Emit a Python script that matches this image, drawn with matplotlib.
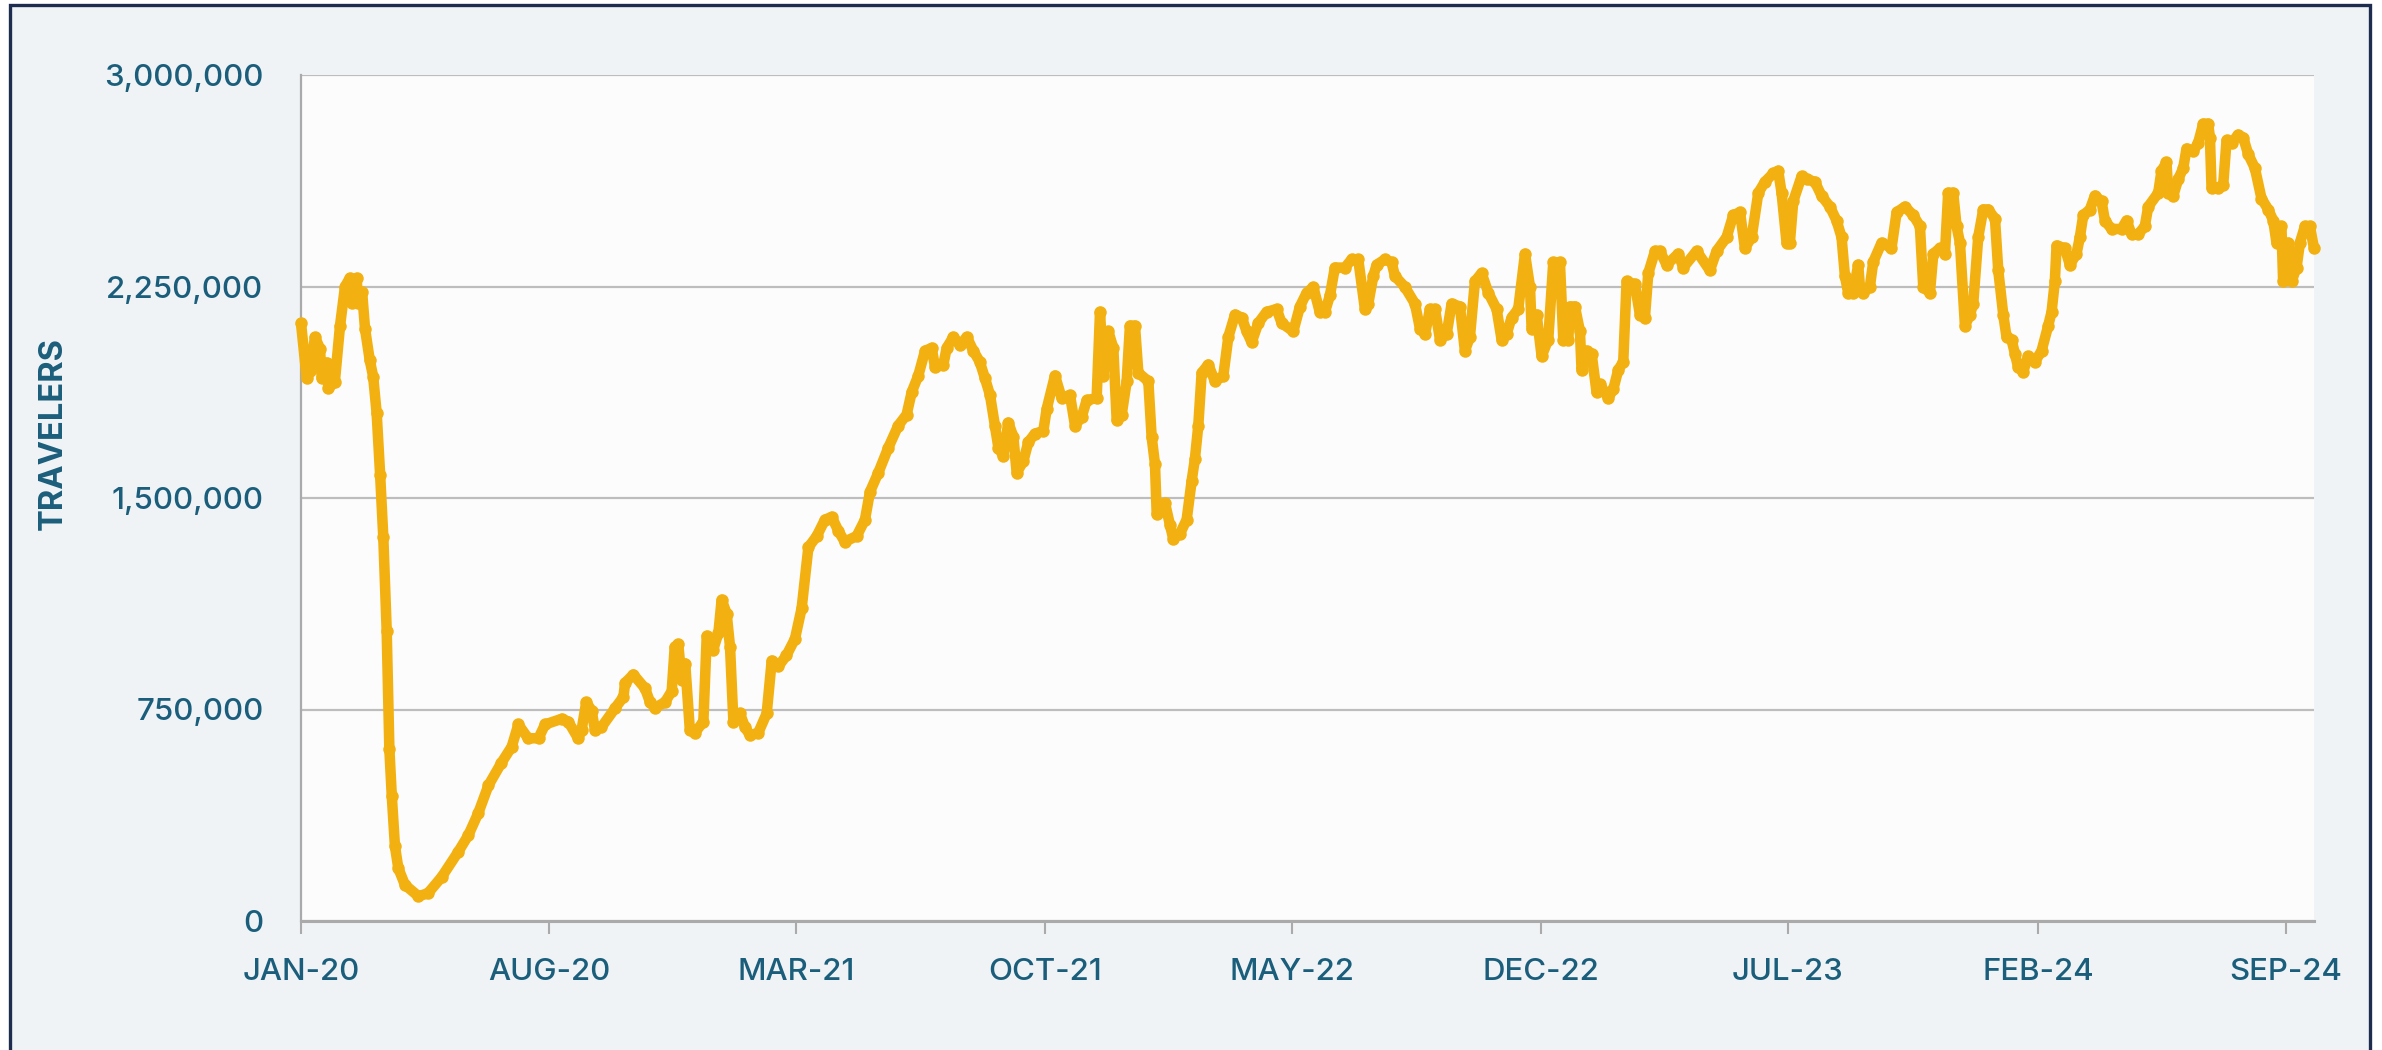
import matplotlib
matplotlib.use("Agg")
import matplotlib.pyplot as plt
import matplotlib.patches as mpatches
import pandas as pd
from matplotlib.ticker import FuncFormatter

# ---- data ----
# days since 2020-01-01
day_offsets = [
    0, 4.9, 7.7, 12, 16.3, 17.8, 22, 23.5, 29, 33.5, 37.8, 42, 44, 47.8, 49, 52.5, 55,
    59, 62, 65, 68, 70.7, 73.6, 75.9, 78, 80.7, 83.6, 89.3, 100.8, 109, 121, 135,
    143.7, 152.3, 161, 172, 181, 186.7, 195, 204, 209.6, 224, 229.6, 238, 241, 245,
    249.6, 252.5, 258, 270, 277, 278.3, 285.5,
    295.5, 299.8, 304, 312.7, 318.4, 321, 324, 327, 330, 334, 338.4, 345.6, 348.5,
    354, 358.5, 361.3, 365.6, 368.5, 371.4, 377, 381.4, 385.7, 392.8, 400, 404.3,
    410, 417, 424.3, 430, 435.8, 443, 450, 455.8, 461.5, 467, 477.3, 484.4, 488.7,
    495.9, 504.5, 513, 520.2, 524.5, 530.2, 536, 541.7, 544.6, 551.7, 554.6, 560.3,
    566, 571.8, 577.5,
    583, 587.5, 591.8, 596, 599, 603.2, 607.5, 611.8, 614.7, 620.4, 624.7, 630.4,
    637.6, 640.5, 647.6, 653.3, 660.5, 664.8, 670.5, 674.8, 683.4, 686.3, 689.1,
    693.4, 697.7, 700.6, 704.9, 709.2, 712, 716.3, 719.2, 727.8, 730.6, 733.5, 735,
    742.1, 746.4, 749.2, 755, 760.7, 765, 767.8, 770.7, 773.6, 779.3, 785, 792.2,
    796.5, 802.2, 808, 812.2, 816.5, 822.2, 829.4, 838, 842.3, 852.3, 858, 863.8,
    869.5,
    875, 879.5, 883.8, 888, 896.7, 902.4, 908.1, 913.8, 916.7, 921, 923.9, 931,
    936.7, 939.6, 948.2, 956.8, 961.1, 965.4, 969.7, 974, 978.3, 984, 988.3, 995.4,
    999.7, 1004, 1008.3, 1014, 1019.8, 1026.9, 1031.2, 1035.5, 1039.8, 1045.5,
    1051.3, 1055.6, 1057, 1061.3, 1065.6, 1071.3, 1075.6, 1081.3, 1084.2, 1088.5,
    1089.9, 1094.2, 1098.5, 1099.9, 1104.2, 1108.5, 1112.8, 1115.7, 1122.8, 1127.1,
    1131.4, 1135.7, 1138.6, 1145.7, 1150, 1154.3, 1157.2, 1163,
    1167.2, 1172.9, 1183, 1187.2, 1198.7, 1210.1, 1215.9, 1224.5, 1230.2, 1236,
    1240.2, 1246, 1251.7, 1257.4, 1264.5, 1268.8, 1271.7, 1276, 1278.8, 1281.7,
    1288.9, 1293.2, 1300.3, 1306, 1313.2, 1318.9, 1323.2, 1326.1, 1328.9, 1333.2,
    1337.5, 1339, 1341.8, 1347.5, 1350.4, 1357.6, 1366.1, 1370.5, 1377.6, 1384.8,
    1390.5, 1393.4, 1399.1, 1402, 1407.7, 1412, 1414.8, 1419.1, 1422, 1424.9,
    1429.2, 1433.5, 1436.3, 1440.6, 1444.9, 1449.2,
    1455, 1457.8, 1462.1, 1464.9, 1469.2, 1472.1, 1474.9, 1479.2, 1483.5, 1489.3,
    1495, 1500.7, 1503.6, 1506.4, 1507.9, 1515, 1519.3, 1525, 1527.9, 1530.8,
    1536.5, 1540.8, 1546.5, 1549.4, 1555.1, 1563.7, 1568, 1572.3, 1578, 1583.7,
    1586.6, 1595.2, 1598, 1602.3, 1603.8, 1608.1, 1612.4, 1616.7, 1619.5, 1625.2,
    1629.5, 1633.8, 1638.1, 1639.6, 1641, 1646.7, 1651, 1653.9, 1658.2, 1663.9,
    1668.2, 1672.5, 1678.2, 1683.9, 1689.7, 1694, 1696.8, 1701, 1702.5, 1707,
    1709.7, 1714, 1716.9, 1721.2, 1725.4, 1729,
]

# travelers, thousands
travelers_k = [
    2120, 1924, 1950, 2070, 2030, 1924, 1980, 1890, 1910, 2110, 2250, 2280, 2190, 2280, 2190, 2230, 2100,
    1990, 1930, 1800, 1580, 1360, 1030, 609, 442, 265, 187, 128, 88, 98, 157, 245,
    304, 383, 481, 560, 618, 697, 648, 648, 697, 717, 707, 648, 677, 776,
    746, 677, 687, 756, 795, 844, 874,
    825, 776, 756, 776, 815, 972, 982, 854, 913, 677, 668, 707, 1011,
    962, 1021, 1139, 1090, 972, 707, 736, 687, 658, 668, 736, 923,
    903, 942, 1001, 1109, 1325, 1365, 1423, 1433, 1384, 1345, 1365, 1423, 1522,
    1590, 1679, 1757, 1796, 1875, 1934, 2022, 2032, 1963, 1973, 2032, 2071,
    2042, 2071, 2022,
    1983, 1924, 1865, 1757, 1679, 1649, 1767, 1718, 1590, 1630, 1698, 1728,
    1738, 1816, 1934, 1855, 1865, 1757, 1787, 1846, 1855, 2160, 1934,
    2091, 2032, 1777, 1796, 1914, 2111, 2111, 1944, 1914, 1718, 1620, 1443,
    1482, 1404, 1355, 1374, 1423, 1561, 1639, 1757, 1944, 1973, 1914, 1934,
    2071, 2150, 2140, 2091, 2052, 2120, 2160, 2170, 2120, 2091, 2179, 2228,
    2248,
    2160, 2160, 2219, 2317, 2317, 2346, 2346, 2170, 2189, 2287, 2327, 2346,
    2336, 2287, 2248, 2189, 2101, 2081, 2170, 2170, 2062, 2081, 2189, 2179,
    2022, 2071, 2268, 2297, 2228, 2170, 2062, 2081, 2140, 2170,
    2366, 2248, 2101, 2150, 2003, 2062, 2336, 2336, 2062, 2062,
    2179, 2179, 2091, 1954, 2022, 2012, 1875, 1904, 1855, 1885,
    1954, 1983, 2268, 2258, 2150, 2140, 2297, 2376,
    2376, 2327, 2366, 2317, 2376, 2307, 2376, 2425, 2503, 2513,
    2386, 2425, 2582, 2621, 2651, 2660, 2582, 2405, 2405, 2552,
    2641, 2631, 2621, 2572, 2533, 2484, 2425, 2287, 2228, 2228,
    2327, 2248, 2228, 2248, 2337, 2405, 2386, 2513, 2533, 2503,
    2464, 2248, 2228, 2366, 2386, 2366, 2582, 2582, 2464, 2405,
    2111, 2150, 2189, 2425, 2523, 2523,
    2490, 2307, 2150, 2071, 2062, 2012, 1963, 1948, 2003, 1983,
    2022, 2111, 2160, 2268, 2395, 2386, 2327, 2366, 2425, 2503,
    2523, 2572, 2552, 2484, 2454, 2454, 2484, 2435, 2435, 2464,
    2533, 2582, 2660, 2690, 2582, 2572, 2631, 2670, 2739, 2729,
    2759, 2827, 2827, 2778, 2601, 2601, 2611, 2768, 2759, 2788,
    2778, 2719, 2670, 2562, 2523, 2484, 2405, 2464, 2268, 2405,
    2268, 2317, 2405, 2464, 2464, 2386,
]

y_ticks = [0, 750000, 1500000, 2250000, 3000000]
y_label = "TRAVELERS"
start_date = "2020-01-01"
x_tick_dates = ["2020-01-01", "2020-08-01", "2021-03-01", "2021-10-01", "2022-05-01",
                "2022-12-01", "2023-07-01", "2024-02-01", "2024-09-01"]

# ---- styling ----
TEXT = "#1B5E7B"
LINE = "#F2B111"
FIG_BG = "#EFF3F6"
PLOT_BG = "#FCFCFC"
GRID = "#BDBDBD"
NAVY = "#1E2D4F"

plt.rcParams["font.family"] = ["Inter", "DejaVu Sans"]

W, H = 2382, 1050
fig = plt.figure(figsize=(W / 100, H / 100), dpi=100, facecolor="white")

frame = mpatches.Rectangle((10 / W, -0.05), (2370 - 10) / W, 1 + 0.05 - 5 / H,
                           transform=fig.transFigure, facecolor=FIG_BG,
                           edgecolor=NAVY, linewidth=2.4, zorder=-10, clip_on=False)
fig.patches.append(frame)

left, right, top, bottom = 301, 2314, 75, 921
ax = fig.add_axes([left / W, 1 - bottom / H, (right - left) / W, (bottom - top) / H])
ax.set_facecolor(PLOT_BG)

dates = pd.Timestamp(start_date) + pd.to_timedelta(day_offsets, unit="D")
values = [v * 1000 for v in travelers_k]

ax.plot(dates, values, color=LINE, linewidth=7.6, marker="o", markersize=9,
        markeredgewidth=0, solid_joinstyle="round", solid_capstyle="round",
        zorder=3, clip_on=False)

ax.set_ylim(0, 3000000)
ax.set_xlim(pd.Timestamp(start_date), pd.Timestamp(start_date) + pd.Timedelta(days=1729))

ax.set_yticks(y_ticks)
ax.yaxis.set_major_formatter(FuncFormatter(lambda v, p: f"{int(v):,}"))
xt = pd.to_datetime(x_tick_dates)
ax.set_xticks(xt)
ax.set_xticklabels([d.strftime("%b-%y").upper() for d in xt])

ax.grid(axis="y", color=GRID, linewidth=1.6, zorder=0)
ax.set_axisbelow(True)
for s in ["top", "right"]:
    ax.spines[s].set_visible(False)
ax.spines["left"].set_color("#AAAAAA")
ax.spines["left"].set_linewidth(1.6)
ax.spines["bottom"].set_color("#AAAAAA")
ax.spines["bottom"].set_linewidth(2.2)

ax.tick_params(axis="y", length=0, pad=27, labelsize=22.5, labelcolor=TEXT)
ax.tick_params(axis="x", length=9, width=1.5, color="#AAAAAA", direction="out",
               pad=18, labelsize=22.5, labelcolor=TEXT)
for lab in ax.get_xticklabels() + ax.get_yticklabels():
    lab.set_fontweight("medium")

fig.text(53 / W, 1 - 434 / H, y_label, rotation=90, ha="center", va="center",
         fontsize=23.5, color=TEXT, fontweight="bold")

fig.savefig("out.png", dpi=100, facecolor=fig.get_facecolor())
